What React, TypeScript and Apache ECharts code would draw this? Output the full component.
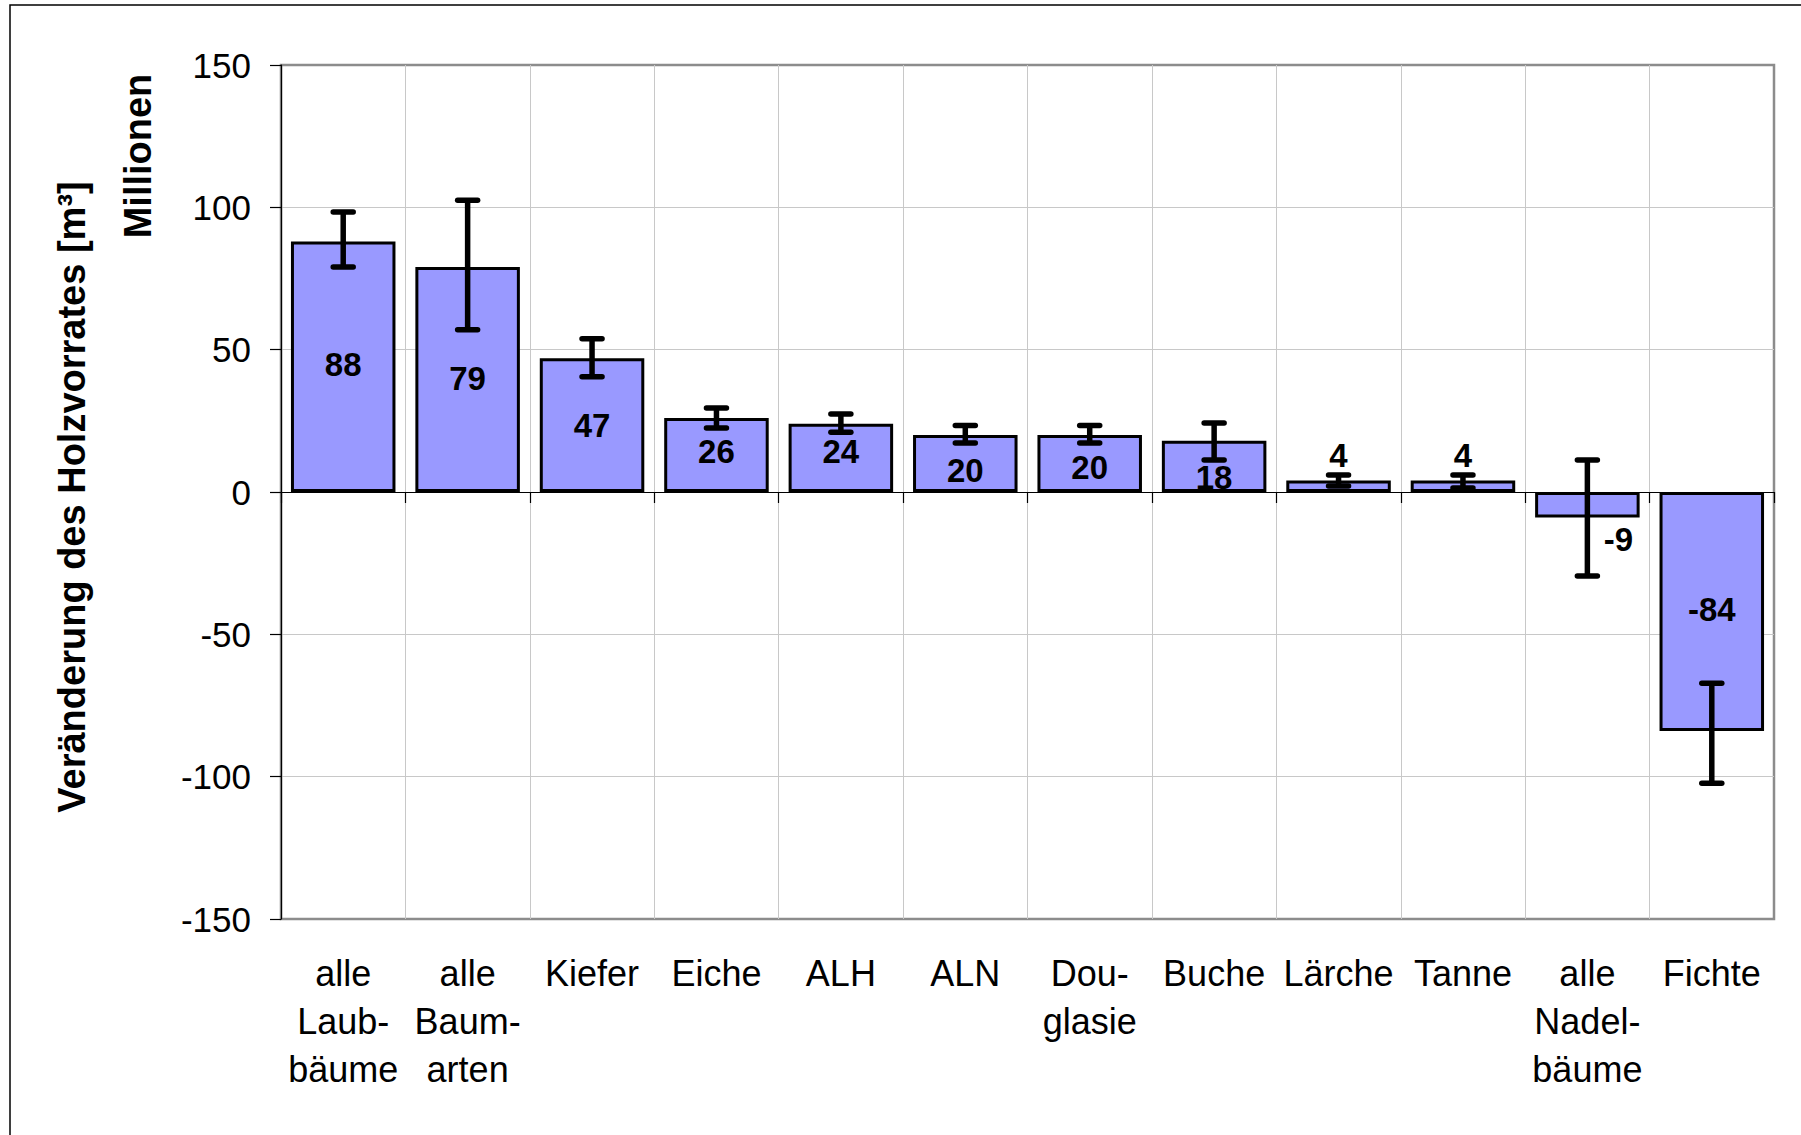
import React, { useEffect, useRef } from "react";
import * as echarts from "echarts";

const categories = [
  "alle\nLaub-\nbäume",
  "alle\nBaum-\narten",
  "Kiefer",
  "Eiche",
  "ALH",
  "ALN",
  "Dou-\nglasie",
  "Buche",
  "Lärche",
  "Tanne",
  "alle\nNadel-\nbäume",
  "Fichte",
];
const values = [88, 79, 47, 26, 24, 20, 20, 18, 4, 4, -9, -84];
const errLow = [79, 57, 40.5, 22.5, 21, 17.2, 17.2, 11.2, 2.1, 1.4, -29.5, -102.3];
const errHigh = [98.4, 102.5, 53.8, 29.5, 27.4, 23.4, 23.4, 24.2, 6, 6, 11.2, -67.2];
const yMin = -150;
const yMax = 150;
const yStep = 50;

const yTitle = "Veränderung des Holzvorrates [m³]";
const unitTitle = "Millionen";

// label nudges (pixels) relative to the bar centre, styling only
const labelShift = [
  [0, -2], [0, -1], [0, 0], [0, -3], [0, -6], [0, 7],
  [0, 4], [0, 11], [0, -31], [0, -31], [31, 35], [0, -2],
];

const FONT = '"Liberation Sans", Arial, Helvetica, sans-serif';

export default function App() {
  const ref = useRef<HTMLDivElement>(null);

  useEffect(() => {
    document.body.style.margin = "0";
    if (!ref.current) return;
    const chart = echarts.init(ref.current, undefined, { renderer: "svg" });

    const option: any = {
      animation: false,
      backgroundColor: "#fff",
      textStyle: { fontFamily: FONT },
      grid: {
        left: 281,
        top: 65,
        width: 1493,
        height: 854,
        show: true,
        borderColor: "#8c8c8c",
        borderWidth: 2.5,
        backgroundColor: "transparent",
      },
      xAxis: [
        {
          type: "category",
          data: categories,
          position: "bottom",
          axisLine: { show: false, onZero: false },
          axisTick: { show: false },
          axisLabel: {
            interval: 0,
            fontSize: 36,
            lineHeight: 48,
            margin: 30,
            color: "#000",
            fontFamily: FONT,
          },
          splitLine: {
            show: true,
            showMinLine: false,
            showMaxLine: false,
            lineStyle: { color: "#c8c8c8", width: 1 },
          },
        },
        {
          type: "category",
          data: categories,
          position: "bottom",
          axisLine: { show: true, onZero: true, lineStyle: { color: "#000", width: 1.2 } },
          axisTick: { show: true, length: 11, inside: false, lineStyle: { color: "#000", width: 1.2 } },
          axisLabel: { show: false },
          splitLine: { show: false },
        },
      ],
      yAxis: {
        type: "value",
        min: yMin,
        max: yMax,
        interval: yStep,
        axisLine: { show: true, onZero: false, lineStyle: { color: "#000", width: 1.2 } },
        axisTick: { show: true, length: 11, inside: false, lineStyle: { color: "#000", width: 1.2 } },
        axisLabel: { fontSize: 35, margin: 30, color: "#000", fontFamily: FONT },
        splitLine: {
          show: true,
          showMinLine: false,
          showMaxLine: false,
          lineStyle: { color: "#c8c8c8", width: 1 },
        },
      },
      series: [
        {
          type: "bar",
          xAxisIndex: 0,
          barCategoryGap: "16%",
          data: values.map((v, i) => ({
            value: v,
            label: { offset: labelShift[i] },
          })),
          itemStyle: { color: "#9999ff", borderColor: "#000", borderWidth: 3 },
          label: {
            show: true,
            position: "inside",
            fontSize: 33,
            fontWeight: "bold",
            color: "#000",
            fontFamily: FONT,
          },
          z: 2,
        },
        {
          type: "custom",
          xAxisIndex: 0,
          data: values.map((_, i) => [i, errLow[i], errHigh[i]]),
          encode: { x: 0, y: [1, 2] },
          z: 3,
          renderItem: (params: any, api: any) => {
            const i = api.value(0);
            const lo = api.coord([i, api.value(1)]);
            const hi = api.coord([i, api.value(2)]);
            const hw = 10;
            const style = { stroke: "#000", lineWidth: 5.5, lineCap: "round" };
            return {
              type: "group",
              children: [
                { type: "line", shape: { x1: lo[0], y1: lo[1], x2: hi[0], y2: hi[1] }, style: { stroke: "#000", lineWidth: 5.5 } },
                { type: "line", shape: { x1: lo[0] - hw, y1: lo[1], x2: lo[0] + hw, y2: lo[1] }, style },
                { type: "line", shape: { x1: hi[0] - hw, y1: hi[1], x2: hi[0] + hw, y2: hi[1] }, style },
              ],
            };
          },
        },
      ],
      graphic: [
        {
          type: "rect",
          shape: { x: 10, y: 5, width: 1800, height: 1140 },
          style: { fill: "none", stroke: "#000", lineWidth: 1.5 },
          silent: true,
          z: -1,
        },
        {
          type: "text",
          x: 72,
          y: 497,
          rotation: Math.PI / 2,
          style: {
            text: yTitle,
            font: `bold 38px ${FONT}`,
            fill: "#000",
            align: "center",
            verticalAlign: "middle",
          },
        },
        {
          type: "text",
          x: 138,
          y: 156,
          rotation: Math.PI / 2,
          style: {
            text: unitTitle,
            font: `bold 38px ${FONT}`,
            fill: "#000",
            align: "center",
            verticalAlign: "middle",
          },
        },
      ],
    };

    chart.setOption(option);
    return () => chart.dispose();
  }, []);

  return <div ref={ref} style={{ width: 1801, height: 1135 }} />;
}
